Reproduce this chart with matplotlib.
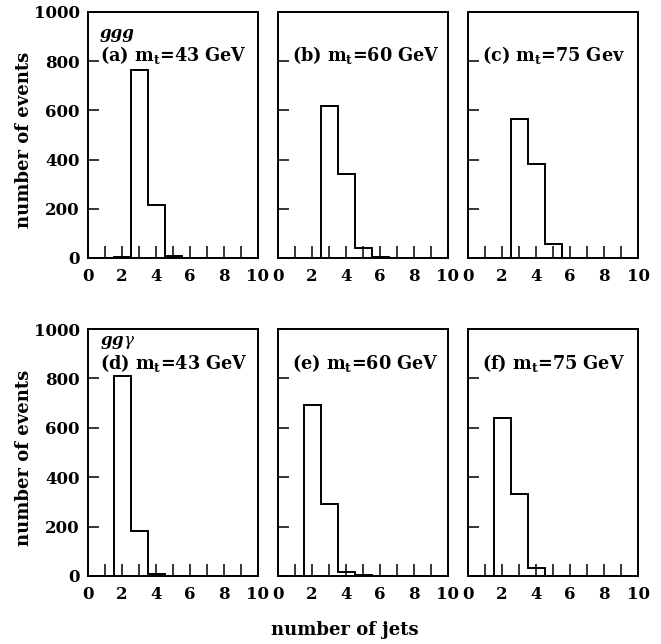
import matplotlib
matplotlib.use("Agg")
import matplotlib.pyplot as plt
import numpy as np

plt.rcParams['font.family'] = ['DejaVu Serif']
plt.rcParams['mathtext.fontset'] = 'dejavuserif'

# Data: number of jets histograms
jets = [1, 2, 3, 4, 5, 6, 7, 8, 9]
vals_a = [0, 6, 765, 215, 10, 0, 0, 0, 0]
vals_b = [0, 0, 617, 340, 41, 3, 0, 0, 0]
vals_c = [0, 0, 565, 384, 56, 0, 0, 0, 0]
vals_d = [0, 808, 182, 8, 0, 0, 0, 0, 0]
vals_e = [0, 691, 290, 17, 3, 0, 0, 0, 0]
vals_f = [0, 641, 333, 33, 0, 0, 0, 0, 0]

panels = [
    (vals_a, "(a)", "43", "GeV", "ggg"),
    (vals_b, "(b)", "60", "GeV", None),
    (vals_c, "(c)", "75", "Gev", None),
    (vals_d, "(d)", "43", "GeV", r"gg$\mathit{\gamma}$"),
    (vals_e, "(e)", "60", "GeV", None),
    (vals_f, "(f)", "75", "GeV", None),
]

xticklabels = ["0", "2", "4", "6", "8", "10"]
yticklabels = ["0", "200", "400", "600", "800", "1000"]

W, H = 661, 644
fig = plt.figure(figsize=(W / 100, H / 100), dpi=100)

lefts = [88, 278, 468]
width = 170
rows = [(12, 258), (329, 576)]
# vertical text offsets (px from axes top) for process name and panel label
text_offsets = [(21, 43), (13, 34)]

edges = np.array(jets + [jets[-1] + 1]) - 0.5

for i, (vals, tag, mass, unit, proc) in enumerate(panels):
    r, c = divmod(i, 3)
    top, bot = rows[r]
    hpx = bot - top
    ax = fig.add_axes([lefts[c] / W, 1 - bot / H, width / W, hpx / H])
    ax.stairs(vals, edges, baseline=0, color='black', lw=1.4)
    ax.set_xlim(0, 10)
    ax.set_ylim(0, 1000)
    ax.set_xticks([0, 2, 4, 6, 8, 10])
    ax.set_xticks(range(1, 10), minor=True)
    ax.set_xticklabels(xticklabels, fontsize=12, fontweight='bold')
    ax.set_yticks([0, 200, 400, 600, 800, 1000])
    if c == 0:
        ax.set_yticklabels(yticklabels, fontsize=12, fontweight='bold')
        ax.set_ylabel("number of events", fontsize=13, fontweight='bold', labelpad=0.5)
        ax.yaxis.label.set_y(0.48)
    else:
        ax.set_yticklabels([])
    ax.tick_params(axis='x', which='both', direction='in', length=8.5, width=1.1,
                   pad=7, top=False)
    ax.tick_params(axis='y', which='both', direction='in', length=8, width=1.1,
                   pad=6, right=False)
    for s in ax.spines.values():
        s.set_linewidth(1.4)
    o_proc, o_tag = text_offsets[r]
    tx = 0.07 if c == 0 else 0.08
    ax.text(tx, 1 - o_tag / hpx, tag + r" $\mathbf{m_t}$=" + mass + " " + unit,
            transform=ax.transAxes, fontsize=12.7, fontweight='bold',
            ha='left', va='center')
    if proc:
        ax.text(0.07, 1 - o_proc / hpx, proc, transform=ax.transAxes, fontsize=12,
                fontweight='bold', style='italic', ha='left', va='center')

fig.text(345 / W, 1 - 630 / H, "number of jets", fontsize=13, fontweight='bold',
         ha='center', va='center')

fig.savefig("out.png", dpi=100)
